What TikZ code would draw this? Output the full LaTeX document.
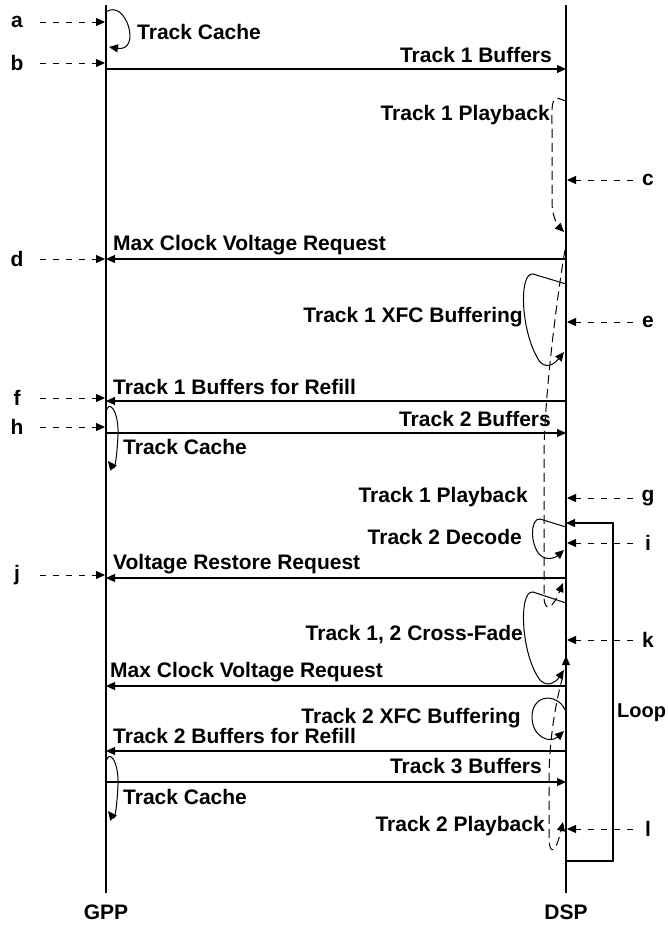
\documentclass[tikz,border=0pt]{standalone}
\usepackage{fontspec}
\setmainfont{Liberation Sans}
\usetikzlibrary{arrows.meta}
\begin{document}
\begin{tikzpicture}[x=1pt,y=-1pt,
    life/.style={line width=1.1pt},
    msg/.style={line width=1.1pt,-{Triangle[length=9pt,width=8pt]}},
    evt/.style={line width=1pt,dash pattern=on 6pt off 7pt,-{Triangle[length=9pt,width=8pt]}},
    act/.style={line width=1pt,-{Triangle[length=9pt,width=8pt]}},
    play/.style={act,dash pattern=on 9pt off 5pt},
    every node/.style={font=\bfseries\fontsize{21}{25}\selectfont,inner sep=0pt}]
  \useasboundingbox (0,0) rectangle (668,926);
  % the two processors
  \node (gpp) at (106,912) {GPP};
  \node (dsp) at (566,912) {DSP};
  \coordinate (gT) at (106,5); \coordinate (gB) at (106,893);
  \coordinate (dT) at (566,5); \coordinate (dB) at (566,893);
  \draw[life] (gT) -- (gB);
  \draw[life] (dT) -- (dB);
  % buffers sent to the DSP
  \foreach \m/\y in {t1/69, t2/433, t3/782}{
    \coordinate (g-\m) at (106,\y);
    \coordinate (d-\m) at (566,\y);
    \draw[msg] (g-\m) -- (d-\m);
  }
  % requests coming back to the GPP
  \foreach \m/\y in {mc1/259, rf1/401, vr/578, mc2/686, rf2/751}{
    \coordinate (g-\m) at (106,\y);
    \coordinate (d-\m) at (566,\y);
    \draw[msg] (d-\m) -- (g-\m);
  }
  \node[anchor=east] (lt1) at (552,55) {Track 1 Buffers};
  \node[anchor=east] (lt2) at (551,419) {Track 2 Buffers};
  \node[anchor=east] (lt3) at (542,766) {Track 3 Buffers};
  \node[anchor=west] (lmc1) at (113,245) {Max Clock Voltage Request};
  \node[anchor=west] (lrf1) at (113,387) {Track 1 Buffers for Refill};
  \node[anchor=west] (lvr) at (113,564) {Voltage Restore Request};
  \node[anchor=west] (lmc2) at (110,672) {Max Clock Voltage Request};
  \node[anchor=west] (lrf2) at (113,736) {Track 2 Buffers for Refill};
  % track cache on the GPP
  \draw[act] (106,12) .. controls (126,-2) and (142,52) .. (109,47);
  \draw[act] (106,413) .. controls (108,398) and (119,410) .. (118,435)
    .. controls (117,455) and (115,470) .. (108,461);
  \draw[act] (106,763) .. controls (108,748) and (119,760) .. (118,785)
    .. controls (117,805) and (115,820) .. (108,811);
  \node[anchor=west] (c1) at (137,32) {Track Cache};
  \node[anchor=west] (c2) at (123,447) {Track Cache};
  \node[anchor=west] (c3) at (123,797) {Track Cache};
  % work on the DSP
  \draw[act] (566,284) -- (533,274) .. controls (518,272) and (521,335) .. (540,362)
    .. controls (548,370) and (556,362) .. (564,352);
  \draw[act] (566,527) -- (540,519) .. controls (530,518) and (530,545) .. (540,555)
    .. controls (547,561) and (555,558) .. (564,550);
  \draw[act] (566,603) -- (533,592) .. controls (518,590) and (521,655) .. (540,680)
    .. controls (548,688) and (556,682) .. (564,670);
  \draw[act] (566,712) .. controls (560,694) and (534,692) .. (532,715)
    .. controls (531,737) and (550,744) .. (564,731);
  \draw[act] (566,666) -- (566,656);
  \node[anchor=east] (x1) at (523,317) {Track 1 XFC Buffering};
  \node[anchor=east] (dc) at (522,537) {Track 2 Decode};
  \node[anchor=east] (xf) at (523,635) {Track 1, 2 Cross-Fade};
  \node[anchor=east] (x2) at (521,718) {Track 2 XFC Buffering};
  % playback
  \draw[play] (566,101) -- (557,98) .. controls (551,100) and (552,110) .. (552,125)
    -- (552,205) .. controls (553,218) and (558,226) .. (564,232);
  \draw[play] (565,250) .. controls (558,290) and (545,390) .. (544,450) -- (544,598)
    .. controls (545,612) and (552,610) .. (563,583);
  \draw[play] (563,676) .. controls (556,700) and (549,740) .. (549,780) -- (549,840)
    .. controls (550,856) and (556,852) .. (563,822);
  \node[anchor=east] (p1) at (550,115) {Track 1 Playback};
  \node[anchor=east] (p2) at (528,497) {Track 1 Playback};
  \node[anchor=east] (p3) at (545,826) {Track 2 Playback};
  % the loop
  \coordinate (lpA) at (566,861); \coordinate (lpB) at (613,861);
  \coordinate (lpC) at (613,523); \coordinate (lpD) at (566,523);
  \draw[msg] (lpA) -- (lpB) -- (lpC) -- (lpD);
  \node[anchor=west,font=\bfseries\fontsize{20}{24}\selectfont] (lp) at (617,713) {Loop};
  % event markers
  \foreach \e/\y in {a/22, b/63, d/259, f/398, h/427, j/575}{
    \node (e-\e) at (17,\y) {\e};
    \coordinate (s-\e) at (40,\y);
    \coordinate (t-\e) at (105,\y);
    \draw[evt] (s-\e) -- (t-\e);
  }
  \foreach \e/\y in {c/180, e/322, g/498, i/543, k/640, l/829}{
    \node (e-\e) at (648,\y) {\e};
    \coordinate (s-\e) at (633,\y);
    \coordinate (t-\e) at (567,\y);
    \draw[evt] (s-\e) -- (t-\e);
  }
\end{tikzpicture}
\end{document}
